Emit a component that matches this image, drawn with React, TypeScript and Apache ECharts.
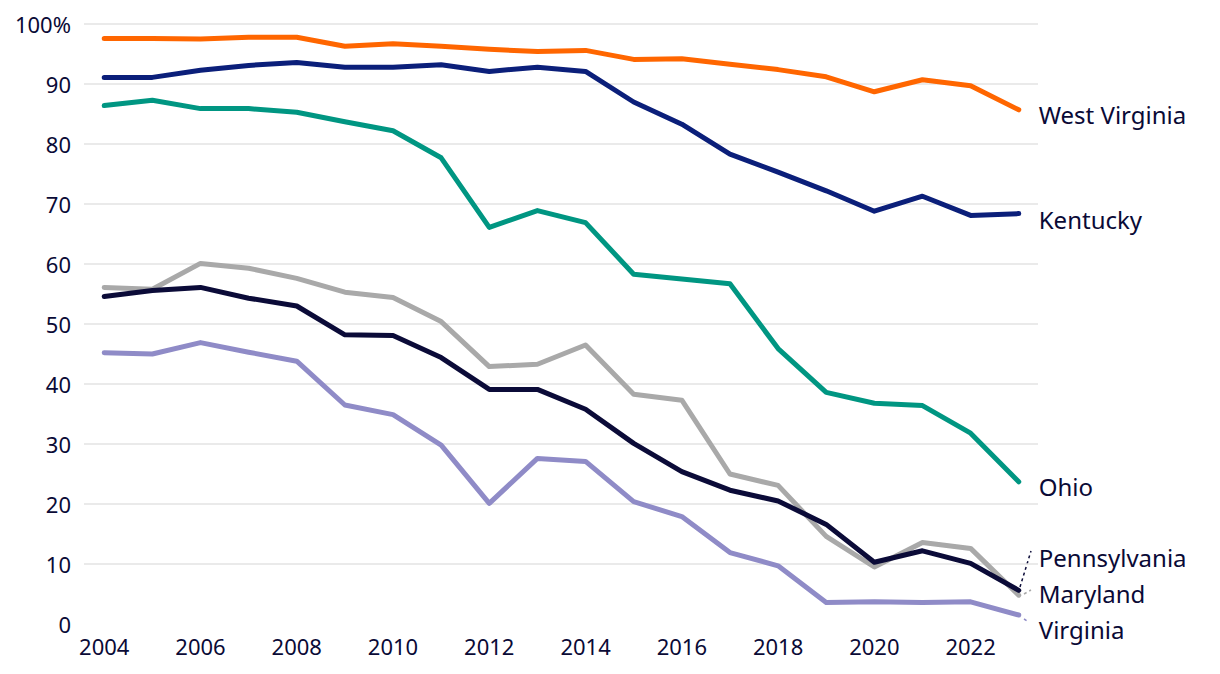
import React, { useEffect, useRef } from "react";
import * as echarts from "echarts";

const years = [2004, 2005, 2006, 2007, 2008, 2009, 2010, 2011, 2012, 2013, 2014, 2015, 2016, 2017, 2018, 2019, 2020, 2021, 2022, 2023];
const xTickLabels = [2004, 2006, 2008, 2010, 2012, 2014, 2016, 2018, 2020, 2022];

const westVirginia = [97.6, 97.6, 97.5, 97.8, 97.8, 96.3, 96.7, 96.3, 95.8, 95.4, 95.6, 94.1, 94.2, 93.3, 92.4, 91.2, 88.7, 90.7, 89.7, 85.7];
const kentucky = [91.1, 91.1, 92.3, 93.1, 93.6, 92.8, 92.8, 93.2, 92.1, 92.8, 92.1, 87.0, 83.3, 78.3, 75.3, 72.2, 68.8, 71.3, 68.1, 68.4];
const ohio = [86.4, 87.3, 85.9, 85.9, 85.3, 83.7, 82.2, 77.7, 66.1, 68.9, 66.9, 58.3, 57.5, 56.7, 45.9, 38.6, 36.8, 36.4, 31.8, 23.7];
const maryland = [56.1, 55.8, 60.1, 59.3, 57.6, 55.3, 54.4, 50.4, 42.9, 43.3, 46.5, 38.3, 37.3, 25.0, 23.1, 14.6, 9.5, 13.6, 12.6, 4.8];
const pennsylvania = [54.6, 55.6, 56.1, 54.3, 53.0, 48.2, 48.1, 44.4, 39.1, 39.1, 35.8, 30.1, 25.4, 22.3, 20.5, 16.6, 10.3, 12.2, 10.1, 5.6];
const virginia = [45.2, 45.0, 46.9, 45.3, 43.8, 36.5, 34.9, 29.8, 20.1, 27.6, 27.1, 20.4, 17.9, 11.9, 9.7, 3.6, 3.7, 3.6, 3.7, 1.5];

const TEXT = "#0a0a36";
const FONT = "'Noto Sans', sans-serif";

type S = { name: string; data: number[]; color: string; dy: number };
const seriesDefs: S[] = [
  { name: "Virginia", data: virginia, color: "#8f8bc7", dy: 14 },
  { name: "Maryland", data: maryland, color: "#a9a9a9", dy: -2 },
  { name: "Pennsylvania", data: pennsylvania, color: "#0b0b38", dy: -33 },
  { name: "Ohio", data: ohio, color: "#009682", dy: 5 },
  { name: "Kentucky", data: kentucky, color: "#0b1f7a", dy: 6 },
  { name: "West Virginia", data: westVirginia, color: "#ff6600", dy: 5 },
];

export default function App() {
  const ref = useRef<HTMLDivElement>(null);
  useEffect(() => {
    if (!ref.current) return;
    const chart = echarts.init(ref.current, null, { renderer: "svg" });
    chart.setOption({
      animation: false,
      backgroundColor: "#ffffff",
      grid: { left: 84, right: 182, top: 24, bottom: 50, containLabel: false },
      xAxis: {
        type: "value",
        min: 2003.58,
        max: 2023.4,
        splitLine: { show: false },
        axisLine: { show: false },
        axisTick: { show: false },
        axisLabel: {
          customValues: xTickLabels,
          formatter: (v: number) => String(v),
          color: TEXT,
          fontFamily: FONT,
          fontSize: 22,
          margin: 11,
        },
      },
      yAxis: {
        type: "value",
        min: 0,
        max: 100,
        interval: 10,
        axisLine: { show: false },
        axisTick: { show: false },
        splitLine: { show: true, showMinLine: false, lineStyle: { color: "#e3e3e3", width: 1.5 } },
        axisLabel: {
          formatter: (v: number) => (v === 100 ? "100%" : String(v)),
          color: TEXT,
          fontFamily: FONT,
          fontSize: 22,
          margin: 13,
        },
      },
      series: seriesDefs.map((s) => ({
        type: "line",
        name: s.name,
        data: years.map((y, i) => [y, s.data[i]]),
        showSymbol: false,
        symbol: "none",
        lineStyle: { color: s.color, width: 5, cap: "round", join: "round" },
        itemStyle: { color: s.color },
        endLabel: {
          show: true,
          formatter: s.name,
          color: TEXT,
          fontFamily: FONT,
          fontSize: 24,
          distance: 20,
          offset: [0, s.dy],
        },
      })),
      graphic: [
        { type: "line", shape: { x1: 1020, y1: 587, x2: 1031, y2: 551 }, style: { stroke: "#0b0b38", lineWidth: 1.5, lineDash: [3, 3] } },
        { type: "line", shape: { x1: 1024, y1: 594, x2: 1031, y2: 590 }, style: { stroke: "#a9a9a9", lineWidth: 1.5, lineDash: [3, 3] } },
        { type: "line", shape: { x1: 1024, y1: 619, x2: 1029, y2: 622 }, style: { stroke: "#8f8bc7", lineWidth: 1.5, lineDash: [3, 3] } },
      ],
    });
    return () => chart.dispose();
  }, []);
  return <div ref={ref} style={{ position: "fixed", left: 0, top: 0, width: 1220, height: 674 }} />;
}
